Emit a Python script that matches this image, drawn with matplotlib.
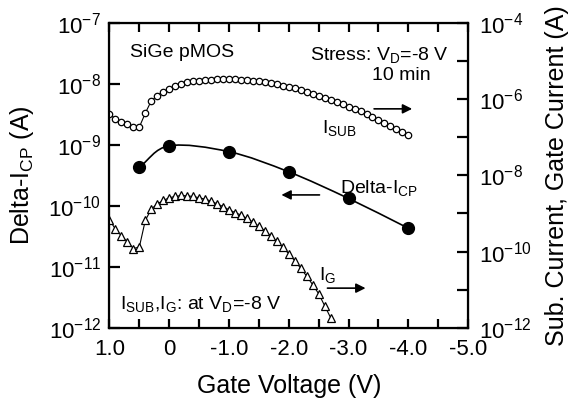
import numpy as np
import matplotlib
matplotlib.use("Agg")
import matplotlib.pyplot as plt
from matplotlib.path import Path
from matplotlib.patches import PathPatch
from matplotlib.ticker import FixedLocator, MultipleLocator

plt.rcParams['font.family'] = ['Liberation Sans', 'DejaVu Sans']
plt.rcParams['mathtext.fontset'] = 'custom'
plt.rcParams['mathtext.rm'] = 'Liberation Sans'
plt.rcParams['mathtext.it'] = 'Liberation Sans:italic'
plt.rcParams['mathtext.default'] = 'rm'

# ---- data ----
# Delta-I_CP (left axis, A)
vg_cp = [0.5, 0.0, -1.0, -2.0, -3.0, -4.0]
delta_icp = [4.3e-10, 9.6e-10, 7.7e-10, 3.6e-10, 1.32e-10, 4.3e-11]

# substrate current (right axis, A), 0.1 V steps from 1.0 to -4.0
vg_sub = [round(1.0 - 0.1 * i, 1) for i in range(51)]
i_sub = [4.07e-7, 3.01e-7, 2.52e-7, 2.23e-7, 1.89e-7, 1.83e-7, 4.25e-7, 8.9e-7,
         1.23e-6, 1.56e-6, 1.84e-6, 2.16e-6, 2.48e-6, 2.75e-6, 2.92e-6, 3.03e-6,
         3.16e-6, 3.22e-6, 3.30e-6, 3.36e-6, 3.36e-6, 3.30e-6, 3.22e-6, 3.16e-6,
         3.03e-6, 2.92e-6, 2.75e-6, 2.59e-6, 2.44e-6, 2.24e-6, 2.07e-6, 1.92e-6,
         1.73e-6, 1.56e-6, 1.38e-6, 1.23e-6, 1.09e-6, 9.6e-7, 8.4e-7, 7.3e-7,
         6.3e-7, 5.5e-7, 4.7e-7, 4.0e-7, 3.4e-7, 2.89e-7, 2.41e-7, 2.01e-7,
         1.68e-7, 1.40e-7, 1.15e-7]

# gate current (right axis, A), 0.1 V steps from 1.0 to -2.7
vg_g = [round(1.0 - 0.1 * i, 1) for i in range(38)]
i_g = [6.8e-10, 3.9e-10, 2.6e-10, 1.82e-10, 1.21e-10, 1.32e-10, 6.6e-10, 1.30e-9,
       1.79e-9, 2.19e-9, 2.58e-9, 2.79e-9, 2.96e-9, 2.90e-9, 2.79e-9, 2.58e-9,
       2.38e-9, 2.11e-9, 1.79e-9, 1.52e-9, 1.25e-9, 1.06e-9, 9.1e-10, 7.4e-10,
       5.96e-10, 4.62e-10, 3.52e-10, 2.61e-10, 1.87e-10, 1.30e-10, 8.8e-11, 5.8e-11,
       3.67e-11, 2.27e-11, 1.36e-11, 7.9e-12, 3.84e-12, 1.86e-12]

left_exps = [-12, -11, -10, -9, -8, -7]
right_exps = list(range(-12, -3))


def smooth_path(xs, ys):
    # catmull-rom style bezier through the points, built in log space
    lx = np.array(xs, dtype=float)
    ly = np.log10(np.array(ys, dtype=float))
    n = len(lx)
    mx = np.zeros(n)
    my = np.zeros(n)
    for i in range(n):
        a = max(i - 1, 0)
        b = min(i + 1, n - 1)
        mx[i] = (lx[b] - lx[a]) / (b - a)
        my[i] = (ly[b] - ly[a]) / (b - a)
    verts = [(lx[0], ly[0])]
    codes = [Path.MOVETO]
    for i in range(n - 1):
        verts += [(lx[i] + mx[i] / 3, ly[i] + my[i] / 3),
                  (lx[i + 1] - mx[i + 1] / 3, ly[i + 1] - my[i + 1] / 3),
                  (lx[i + 1], ly[i + 1])]
        codes += [Path.CURVE4] * 3
    verts = [(x, 10 ** y) for x, y in verts]
    return Path(verts, codes)


fig = plt.figure(figsize=(5.73, 4.03), dpi=100)
ax = fig.add_axes([0.191, 0.186, 0.626, 0.758])
ax2 = ax.twinx()

# left axis
ax.set_yscale('log')
ax.set_xlim(1.0, -5.0)
ax.set_ylim(1e-12, 1e-7)
ax.yaxis.set_major_locator(FixedLocator([10.0 ** e for e in left_exps]))
ax.yaxis.set_minor_locator(FixedLocator([]))
ax.set_yticklabels([r'$10^{%d}$' % e for e in left_exps])
ax.xaxis.set_minor_locator(MultipleLocator(0.5))
ax.set_xticks([1.0, 0.0, -1.0, -2.0, -3.0, -4.0, -5.0])
ax.set_xticklabels(['1.0', '0', '-1.0', '-2.0', '-3.0', '-4.0', '-5.0'])

ax.add_patch(PathPatch(smooth_path(vg_cp, delta_icp), facecolor='none',
                       edgecolor='black', lw=1.2, transform=ax.transData))
ax.plot(vg_cp, delta_icp, 'o', color='black', ms=8.5, zorder=3)

# right axis
ax2.set_yscale('log')
ax2.set_ylim(1e-12, 1e-4)
ax2.yaxis.set_major_locator(FixedLocator([10.0 ** e for e in right_exps]))
ax2.yaxis.set_minor_locator(FixedLocator([]))
ax2.set_yticklabels([r'$10^{%d}$' % e if e % 2 == 0 else '' for e in right_exps])
ax2.plot(vg_sub, i_sub, '-o', color='black', lw=0.8, ms=4.6, mfc='white',
         mec='black', mew=0.9)
ax2.plot(vg_g, i_g, '-^', color='black', lw=0.8, ms=6, mfc='white',
         mec='black', mew=0.9)

for s in ax.spines.values():
    s.set_linewidth(1.6)
ax.tick_params(axis='x', which='both', direction='in', top=True, length=6.5,
               width=1.6, labelsize=16, pad=8)
ax.tick_params(axis='y', which='both', direction='in', length=8, width=1.6,
               labelsize=16, pad=6)
ax2.tick_params(axis='y', which='both', direction='in', length=8, width=1.6,
                labelsize=16, pad=8)

ax.set_xlabel('Gate Voltage (V)', fontsize=18, labelpad=10)
ax.set_ylabel(r'Delta-I$_{\mathrm{CP}}$ (A)', fontsize=18, labelpad=9)
ax2.set_ylabel('Sub. Current, Gate Current (A)', fontsize=18, labelpad=9)

# annotations
ax.text(0.66, 3.2e-8, 'SiGe pMOS', fontsize=14, ha='left', va='center')
ax.text(-4.67, 3.0e-8, r'Stress: V$_{\mathrm{D}}$=-8 V', fontsize=14,
        ha='right', va='center')
ax.text(-3.89, 1.35e-8, '10 min', fontsize=14, ha='center', va='center')
ax.text(-2.55, 1.86e-9, r'I$_{\mathrm{SUB}}$', fontsize=14, ha='left', va='center')
ax.text(-2.86, 1.93e-10, r'Delta-I$_{\mathrm{CP}}$', fontsize=14, ha='left',
        va='center')
ax.text(-2.5, 7.3e-12, r'I$_{\mathrm{G}}$', fontsize=14, ha='left', va='center')
ax.text(0.82, 2.45e-12, r'I$_{\mathrm{SUB}}$,I$_{\mathrm{G}}$: at V$_{\mathrm{D}}$=-8 V',
        fontsize=14, ha='left', va='center')

arrow = dict(arrowstyle='-|>', color='black', lw=1.2, mutation_scale=14)
ax.annotate('', xy=(-4.11, 3.87e-9), xytext=(-3.38, 3.87e-9), arrowprops=arrow)
ax.annotate('', xy=(-1.83, 1.51e-10), xytext=(-2.56, 1.51e-10), arrowprops=arrow)
ax.annotate('', xy=(-3.33, 4.5e-12), xytext=(-2.6, 4.5e-12), arrowprops=arrow)

fig.savefig('out.png', dpi=100)
